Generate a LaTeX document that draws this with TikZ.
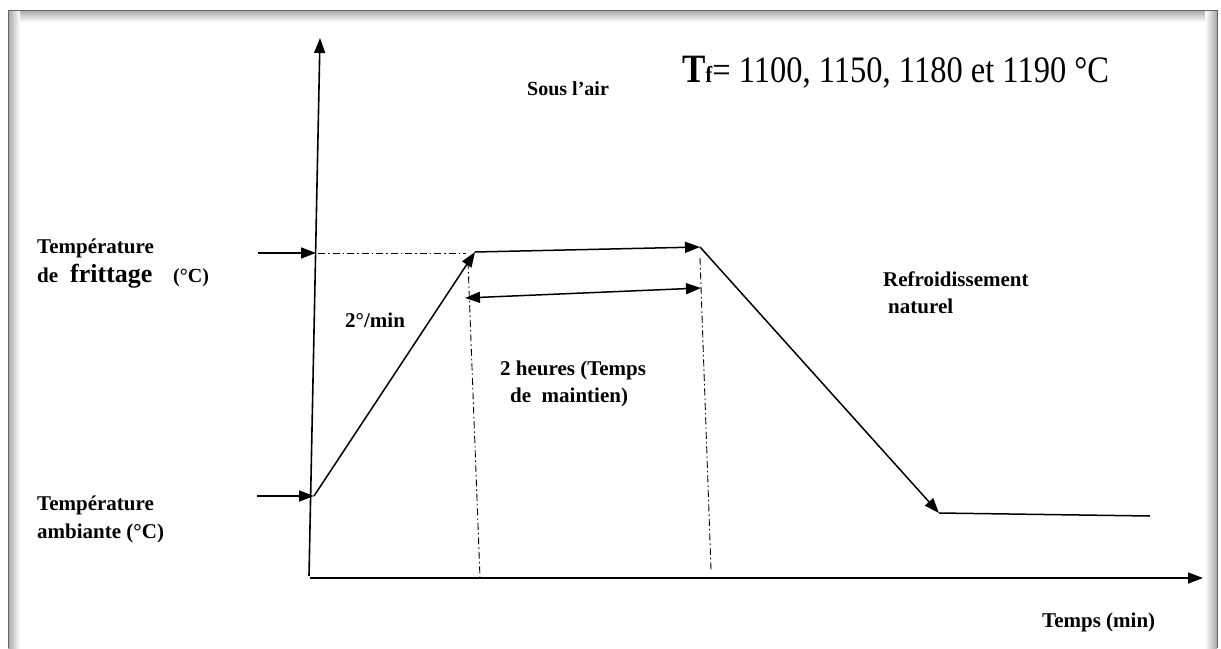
\documentclass[tikz,border=0pt]{standalone}
\usepackage{fontspec}
\setmainfont{Liberation Serif}
\usetikzlibrary{arrows.meta}
\tikzset{
  axisline/.style={line width=1.6pt, -{Triangle[length=15pt,width=11pt]}},
  curveline/.style={line width=1.5pt, -{Triangle[length=15pt,width=11pt]}},
  plainline/.style={line width=1.5pt},
  dashdot/.style={line width=0.9pt, dash pattern=on 7pt off 3pt on 1.5pt off 3pt},
  lbl/.style={anchor=base west, inner sep=0pt, font=\fontsize{21}{24}\selectfont\bfseries},
}
\begin{document}
\begin{tikzpicture}[x=1pt,y=-1pt]
\useasboundingbox (0,0) rectangle (1221,648);
% frame with inner shadow
\shade[top color=gray!70, bottom color=white] (8,10) rectangle (1217,22);
\shade[left color=gray!70, right color=white] (8,10) rectangle (20,648);
\shade[left color=white, right color=gray!70] (1205,10) rectangle (1217,648);
\draw[gray!80!black, line width=1pt] (8,648) -- (8,10) -- (1217,10) -- (1217,648);
\fill[white] (20,22) rectangle (1205,648);

% coordinates
\coordinate (O) at (310,578);
\coordinate (Ybot) at (309,576);
\coordinate (Ytop) at (320,38);
\coordinate (Xtip) at (1203,578);
\coordinate (FA) at (258,253);
\coordinate (F) at (316,253);
\coordinate (AA) at (257,496);
\coordinate (A) at (314,496);
\coordinate (P1) at (475,252);
\coordinate (P2) at (700,247);
\coordinate (C) at (939,513);
\coordinate (E) at (1150,516);
\coordinate (D1) at (318,253);
\coordinate (D2) at (466,253);
\coordinate (V1a) at (468,262);
\coordinate (V1b) at (480,578);
\coordinate (V2a) at (700,258);
\coordinate (V2b) at (711,570);
\coordinate (H1) at (465,298);
\coordinate (H2) at (701,288);

% axes
\draw[axisline] (Ybot) -- (Ytop);
\draw[axisline] (O) -- (Xtip);

% level arrows
\draw[curveline] (FA) -- (F);
\draw[curveline] (AA) -- (A);

% dash-dot guides
\draw[dashdot] (D1) -- (D2);
\draw[dashdot] (V1a) -- (V1b);
\draw[dashdot] (V2a) -- (V2b);

% cycle
\draw[curveline] (A) -- (P1);
\draw[curveline] (P1) -- (P2);
\draw[curveline] (P2) -- (C);
\draw[plainline] (C) -- (E);
\draw[line width=1.5pt, {Triangle[length=15pt,width=11pt]}-{Triangle[length=15pt,width=11pt]}] (H1) -- (H2);

% labels
\node[anchor=base west, inner sep=0pt] (title) at (682,82)
  {\scalebox{1}[1.15]{\fontsize{35}{38}\selectfont\textbf{T}\fontsize{20}{22}\selectfont\textbf{f}\fontsize{32.5}{36}\selectfont= 1100, 1150, 1180 et 1190 °C}};
\node[lbl, font=\fontsize{20}{22}\selectfont\bfseries] (air) at (527,95) {Sous l’air};
\node[lbl] (tf1) at (37,253) {Température};
\node[lbl] (tf2) at (37,282) {de};
\node[lbl, font=\fontsize{26}{28}\selectfont\bfseries] (tf3) at (70,282) {frittage};
\node[lbl, font=\fontsize{20}{22}\selectfont\bfseries] (tf4) at (173,282) {(°C)};
\node[lbl] (rate) at (345,327) {2°/min};
\node[lbl] (h1) at (500,375) {2 heures (Temps};
\node[lbl] (h2) at (510,402) {de \ maintien)};
\node[lbl] (r1) at (883,286) {Refroidissement};
\node[lbl] (r2) at (888,313) {naturel};
\node[lbl] (ta1) at (37,510) {Température};
\node[lbl] (ta2) at (37,538) {ambiante (°C)};
\node[lbl] (tm) at (1042,627) {Temps (min)};
\end{tikzpicture}
\end{document}
